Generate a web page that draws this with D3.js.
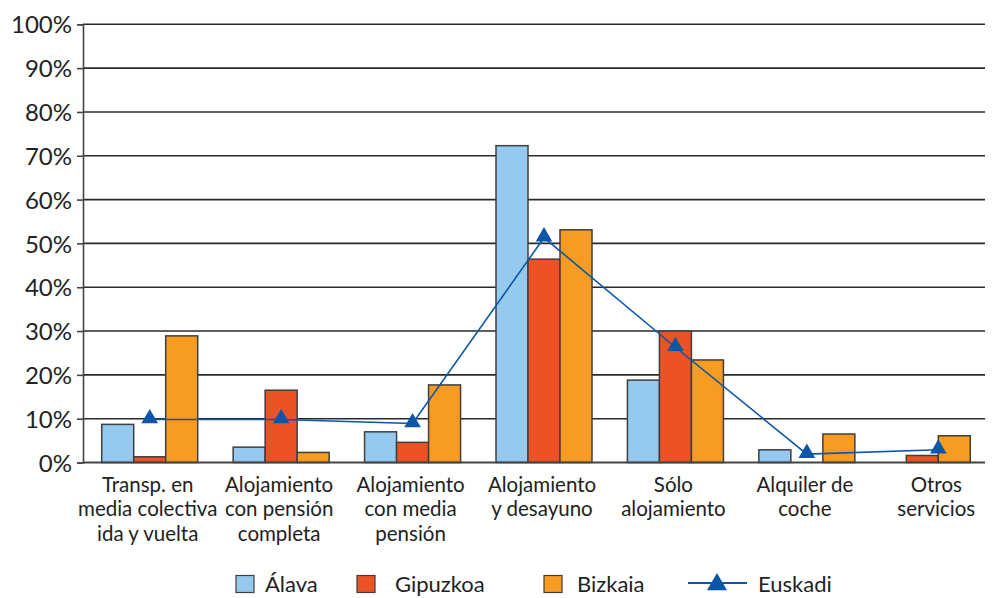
<!DOCTYPE html>
<html>
<head>
<meta charset="utf-8">
<script src="https://cdn.jsdelivr.net/npm/d3@7"></script>
<style>
  html, body { margin: 0; padding: 0; background: #fff; }
  svg { display: block; font-family: Lato, "Open Sans", sans-serif; }
</style>
</head>
<body>
<svg id="chart" width="997" height="598"></svg>
<script>
// ---- Data ----
const categories = [
  "Transp. en\nmedia colectiva\nida y vuelta",
  "Alojamiento\ncon pensión\ncompleta",
  "Alojamiento\ncon media\npensión",
  "Alojamiento\ny desayuno",
  "Sólo\nalojamiento",
  "Alquiler de\ncoche",
  "Otros\nservicios"
];
const alava    = [8.7, 3.5, 7.0, 72.3, 18.8, 2.9, null];
const gipuzkoa = [1.3, 16.5, 4.6, 46.4, 30.0, 0, 1.6];
const bizkaia  = [28.9, 2.3, 17.7, 53.1, 23.4, 6.5, 6.1];
const euskadi  = [9.8, 9.8, 8.9, 51.3, 26.3, 1.9, 2.9];
const seriesNames = ["Álava", "Gipuzkoa", "Bizkaia"];
const lineName = "Euskadi";
const yTicks = [0, 10, 20, 30, 40, 50, 60, 70, 80, 90, 100];

// ---- Styles ----
const colors = ["#95C9EE", "#EC5226", "#F79B22"];
const lineColor = "#0B56A6";
const barStroke = "#3f3f3f";
const gridColor = "#2a2a2a";

const svg = d3.select("#chart");
const plotLeft = 83, plotRight = 985, plotTop = 24.3, plotBottom = 462.5;

const x = d3.scaleBand().domain(categories).range([84, 1004]).padding(0);
const y = d3.scaleLinear().domain([0, 100]).range([plotBottom, plotTop]);
const barW = 32;

// gridlines
svg.append("g").selectAll("line").data(yTicks.filter(t => t > 0)).join("line")
  .attr("x1", plotLeft).attr("x2", plotRight)
  .attr("y1", d => y(d)).attr("y2", d => y(d))
  .attr("stroke", gridColor).attr("stroke-width", 1.6);

// y axis
const yAxis = svg.append("g").attr("transform", `translate(${plotLeft},0)`)
  .call(d3.axisLeft(y).tickValues(yTicks).tickFormat(d => d + "%").tickSize(6).tickPadding(5));
yAxis.select(".domain").attr("stroke", "#444").attr("stroke-width", 1.6);
yAxis.selectAll(".tick line").attr("stroke", "#444").attr("stroke-width", 1.6);
yAxis.selectAll(".tick text").attr("font-size", 24).attr("fill", "#222")
  .attr("font-family", "Lato, sans-serif").attr("dy", "0.36em");

// bars
const allSeries = [alava, gipuzkoa, bizkaia];
const barData = [];
categories.forEach((c, i) => {
  const present = allSeries.map((s, k) => ({k, v: s[i]})).filter(d => d.v !== null);
  const n = present.length;
  const cx = x(c) + x.bandwidth() / 2;
  present.forEach((d, j) => {
    barData.push({cat: c, k: d.k, v: d.v, x0: cx + (j - n / 2) * barW});
  });
});
svg.append("g").selectAll("rect").data(barData).join("rect")
  .attr("x", d => d.x0).attr("width", barW)
  .attr("y", d => y(d.v)).attr("height", d => y(0) - y(d.v))
  .attr("fill", d => colors[d.k])
  .attr("stroke", barStroke).attr("stroke-width", 1.5);

// x baseline
svg.append("line").attr("x1", plotLeft).attr("x2", plotRight)
  .attr("y1", y(0)).attr("y2", y(0)).attr("stroke", "#444").attr("stroke-width", 2);

// category labels
const lab = svg.append("g").selectAll("text").data(categories).join("text")
  .attr("x", d => x(d) + x.bandwidth() / 2 - 2)
  .attr("y", 491.5)
  .attr("text-anchor", "middle").attr("font-size", 20.5).attr("fill", "#222");
lab.selectAll("tspan").data(d => d.split("\n")).join("tspan")
  .attr("x", function() { return d3.select(this.parentNode).attr("x"); })
  .attr("dy", (d, i) => i === 0 ? 0 : 24.6)
  .text(d => d);

// Euskadi line
const pts = categories.map((c, i) => [x(c) + x.bandwidth() / 2, y(euskadi[i])]);
svg.append("path").attr("d", d3.line()(pts))
  .attr("fill", "none").attr("stroke", lineColor).attr("stroke-width", 1.6);
const tri = d3.symbol().type(d3.symbolTriangle).size(120);
svg.append("g").selectAll("path").data(pts).join("path")
  .attr("transform", d => `translate(${d[0]},${d[1] - 1})`)
  .attr("d", tri).attr("fill", lineColor);

// legend
const legY = 584;
const legSq = [236, 357, 544];
const legTx = [265, 395, 577];
const leg = svg.append("g");
seriesNames.forEach((name, k) => {
  leg.append("rect").attr("x", legSq[k]).attr("y", legY - 8.5).attr("width", 18).attr("height", 17)
    .attr("fill", colors[k]).attr("stroke", barStroke).attr("stroke-width", 1.2);
  leg.append("text").attr("x", legTx[k]).attr("y", legY + 8).attr("font-size", 22)
    .attr("fill", "#222").text(name);
});
leg.append("line").attr("x1", 688).attr("x2", 747).attr("y1", legY - 1).attr("y2", legY - 1)
  .attr("stroke", lineColor).attr("stroke-width", 1.8);
leg.append("path").attr("transform", `translate(717,${legY + 0.5})`)
  .attr("d", d3.symbol().type(d3.symbolTriangle).size(175)).attr("fill", lineColor);
leg.append("text").attr("x", 758).attr("y", legY + 8).attr("font-size", 22)
  .attr("fill", "#222").text(lineName);
</script>
</body>
</html>
